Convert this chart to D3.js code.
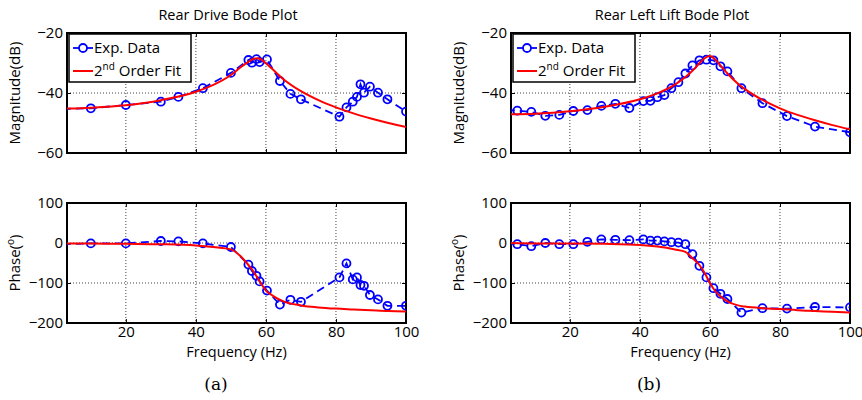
<!DOCTYPE html>
<html>
<head>
<meta charset="utf-8">
<script src="https://cdn.jsdelivr.net/npm/d3@7"></script>
<style>
  body { margin: 0; background: #fff; }
  text { font-family: "Open Sans", sans-serif; }
</style>
</head>
<body>
<script>
// Canvas config
const config = { width: 862, height: 400 };

// Rear Drive (a) - experimental points
const freqA = [2, 10, 20, 30, 35, 42, 50, 55, 56, 57.3, 58.2, 60.3, 64, 67, 70, 81, 83, 84.8, 86, 87, 88, 89.7, 92, 94.7, 100];
const magA = [-45.3, -45.1, -44.0, -42.9, -41.3, -38.4, -33.3, -29.0, -29.9, -28.7, -29.7, -28.8, -36.0, -40.3, -42.1, -47.9, -44.8, -42.9, -41.3, -37.1, -39.9, -37.9, -39.9, -42.1, -46.2];
const phaseA = [-3, -1, -1, 5, 4, -1, -10, -54, -70, -82, -96, -119, -154, -142, -147, -86, -51, -91, -86, -105, -107, -130, -141, -157, -157];

// Rear Drive (a) - 2nd order fit
const fitFreqA = [3.2, 10, 20, 30, 40, 45, 50, 53, 55, 56.5, 57.5, 58.5, 60, 62, 65, 70, 75, 80, 85, 90, 95, 100];
const fitMagA = [-45.2, -44.9, -44.1, -42.4, -39.6, -37.3, -34.0, -31.2, -29.6, -28.6, -28.4, -28.7, -30.1, -32.2, -35.4, -39.4, -42.4, -44.8, -46.8, -48.5, -50.0, -51.3];
const fitPhaseA = [-1, -1, -2, -3, -6, -10, -16, -35, -55, -72, -86, -100, -119, -132, -146, -156, -161, -164, -166, -168, -170, -171];

// Rear Left Lift (b) - experimental points
const freqB = [2, 5, 9, 13, 17, 21, 25, 29, 33, 37, 41, 43, 45, 47, 49, 51, 53, 55, 57, 59, 61, 63, 65, 69, 75, 82, 90, 100];
const magB = [-45.6, -45.9, -46.3, -47.6, -47.3, -46.0, -45.7, -44.3, -43.6, -45.0, -42.7, -42.6, -41.4, -40.7, -38.4, -36.4, -33.5, -30.8, -29.1, -28.9, -29.1, -31.1, -32.8, -38.4, -43.4, -47.7, -51.2, -53.1];
const phaseB = [0, -3, -8, 0, -3, -3, 3, 9, 8, 7, 9, 6, 6, 4, 2, 1, -3, -28, -57, -86, -113, -127, -140, -174, -163, -164, -160, -161];

// Rear Left Lift (b) - 2nd order fit
const fitFreqB = [3.2, 10, 20, 30, 40, 45, 50, 53, 55, 57, 58.5, 60, 61.5, 63, 65, 68, 70, 75, 80, 85, 90, 95, 100];
const fitMagB = [-47.1, -46.9, -46.1, -44.6, -42.1, -40.1, -37.2, -34.7, -32.6, -30.1, -28.4, -27.7, -28.8, -30.8, -33.5, -36.9, -38.7, -42.3, -45.1, -47.3, -49.1, -50.7, -52.1];
const fitPhaseB = [0, -1, -1, -2, -5, -9, -16, -22, -38, -55, -75, -100, -120, -133, -146, -156, -159, -163, -165, -168, -170, -172, -174];

// Axis ticks
const freqTicks = [20, 40, 60, 80, 100];
const magTicks = [-60, -40, -20];
const phaseTicks = [-200, -100, 0, 100];

const fontSize = 15;

const svg = d3.select("body")
  .append("svg")
  .attr("width", config.width)
  .attr("height", config.height);

const zip = (xs, ys) => xs.map((x, i) => [x, ys[i]]);

const drawAxes = (g, x, y, yTicks, showX) => {
  const [x0, x1] = x.range();
  const [y1, y0] = y.range();

  // dotted grid
  g.append("g")
    .selectAll("line")
    .data(freqTicks.filter(d => d < 100))
    .join("line")
    .attr("x1", d => x(d)).attr("x2", d => x(d))
    .attr("y1", y0).attr("y2", y1)
    .attr("stroke", "#444").attr("stroke-width", 1)
    .attr("stroke-dasharray", "1,2");
  g.append("g")
    .selectAll("line")
    .data(yTicks.slice(1, -1))
    .join("line")
    .attr("x1", x0).attr("x2", x1)
    .attr("y1", d => y(d)).attr("y2", d => y(d))
    .attr("stroke", "#444").attr("stroke-width", 1)
    .attr("stroke-dasharray", "1,2");

  g.append("g")
    .attr("transform", `translate(${x0},0)`)
    .call(d3.axisLeft(y).tickValues(yTicks).tickSizeInner(-4).tickSizeOuter(0).tickPadding(4));
  g.append("g")
    .attr("transform", `translate(${x1},0)`)
    .call(d3.axisRight(y).tickValues(yTicks).tickSizeInner(-4).tickSizeOuter(0).tickFormat(""));
  g.append("g")
    .attr("transform", `translate(0,${y0})`)
    .call(d3.axisTop(x).tickValues(freqTicks).tickSizeInner(-4).tickSizeOuter(0).tickFormat(""));
  g.append("g")
    .attr("transform", `translate(0,${y1})`)
    .call(d3.axisBottom(x).tickValues(freqTicks).tickSizeInner(-4).tickSizeOuter(0).tickPadding(3)
      .tickFormat(showX ? d3.format("d") : ""));

  g.selectAll(".domain").remove();
  g.selectAll(".tick line").attr("stroke", "#000").attr("stroke-width", 1);
  g.selectAll(".tick text")
    .attr("font-size", fontSize)
    .attr("font-family", "Open Sans")
    .attr("fill", "#000");

  g.append("rect")
    .attr("x", x0).attr("y", y0)
    .attr("width", x1 - x0).attr("height", y1 - y0)
    .attr("fill", "none").attr("stroke", "#000").attr("stroke-width", 2);
};

const drawSeries = (g, x, y, clipId, freq, vals, fitFreq, fitVals) => {
  const plot = g.append("g").attr("clip-path", `url(#${clipId})`);
  const line = d3.line().x(d => x(d[0])).y(d => y(d[1]));
  const pts = zip(freq, vals);

  plot.append("path")
    .datum(pts)
    .attr("d", line)
    .attr("fill", "none")
    .attr("stroke", "#0000ff")
    .attr("stroke-width", 1.8)
    .attr("stroke-dasharray", "8,5");

  plot.append("g")
    .selectAll("circle")
    .data(pts)
    .join("circle")
    .attr("cx", d => x(d[0]))
    .attr("cy", d => y(d[1]))
    .attr("r", 4)
    .attr("fill", "none")
    .attr("stroke", "#0000ff")
    .attr("stroke-width", 1.8);

  plot.append("path")
    .datum(zip(fitFreq, fitVals))
    .attr("d", line.curve(d3.curveMonotoneX))
    .attr("fill", "none")
    .attr("stroke", "#ff0000")
    .attr("stroke-width", 2);
};

const drawPanel = p => {
  const g = svg.append("g");
  const x = d3.scaleLinear().domain([3.2, 100]).range([p.x0, p.x1]);
  const yMag = d3.scaleLinear().domain([-60, -20]).range([153, 33]);
  const yPh = d3.scaleLinear().domain([-200, 100]).range([323, 203]);

  ["mag", "ph"].forEach((k, i) => {
    svg.append("clipPath")
      .attr("id", `clip-${p.id}-${k}`)
      .append("rect")
      .attr("x", p.x0).attr("y", i ? 203 : 33)
      .attr("width", p.x1 - p.x0).attr("height", 120);
  });

  // title
  g.append("text")
    .attr("x", p.titleX).attr("y", 20)
    .attr("text-anchor", "middle")
    .attr("font-size", 14.5)
    .text(p.title);

  drawAxes(g, x, yMag, magTicks, false);
  drawSeries(g, x, yMag, `clip-${p.id}-mag`, p.freq, p.mag, p.fitFreq, p.fitMag);
  drawAxes(g, x, yPh, phaseTicks, true);
  drawSeries(g, x, yPh, `clip-${p.id}-ph`, p.freq, p.phase, p.fitFreq, p.fitPhase);

  // axis labels
  g.append("text")
    .attr("transform", `translate(${p.x0 - 47},93) rotate(-90)`)
    .attr("text-anchor", "middle")
    .attr("font-size", fontSize)
    .text("Magnitude(dB)");

  const ph = g.append("text")
    .attr("transform", `translate(${p.x0 - 47},263) rotate(-90)`)
    .attr("text-anchor", "middle")
    .attr("font-size", fontSize);
  ph.append("tspan").text("Phase(");
  ph.append("tspan").attr("font-size", 10).attr("dy", -6).text("o");
  ph.append("tspan").attr("dy", 6).text(")");

  g.append("text")
    .attr("x", (p.x0 + p.x1) / 2).attr("y", 357)
    .attr("text-anchor", "middle")
    .attr("font-size", 14.5)
    .text("Frequency (Hz)");

  g.append("text")
    .attr("x", p.letterX).attr("y", 390)
    .attr("text-anchor", "middle")
    .attr("font-size", 17)
    .style("font-family", "'DejaVu Serif', serif")
    .text(p.letter);

  // legend
  const lg = g.append("g").attr("transform", `translate(${p.x0 + 2},34)`);
  lg.append("rect")
    .attr("width", 122).attr("height", 48)
    .attr("fill", "#fff").attr("stroke", "#000").attr("stroke-width", 1.5);
  lg.append("line")
    .attr("x1", 4).attr("x2", 24).attr("y1", 14).attr("y2", 14)
    .attr("stroke", "#0000ff").attr("stroke-width", 1.8);
  lg.append("circle")
    .attr("cx", 14).attr("cy", 14).attr("r", 4)
    .attr("fill", "#fff").attr("stroke", "#0000ff").attr("stroke-width", 1.8);
  lg.append("text")
    .attr("x", 25).attr("y", 19)
    .attr("font-size", fontSize)
    .text("Exp. Data");
  lg.append("line")
    .attr("x1", 4).attr("x2", 24).attr("y1", 37).attr("y2", 37)
    .attr("stroke", "#ff0000").attr("stroke-width", 2);
  const fitLabel = lg.append("text")
    .attr("x", 25).attr("y", 42)
    .attr("font-size", fontSize);
  fitLabel.append("tspan").text("2");
  fitLabel.append("tspan").attr("font-size", 10).attr("dy", -6).text("nd");
  fitLabel.append("tspan").attr("dy", 6).text(" Order Fit");
};

drawPanel({
  id: "a", x0: 67, x1: 406, titleX: 228, letterX: 216,
  title: "Rear Drive Bode Plot", letter: "(a)",
  freq: freqA, mag: magA, phase: phaseA,
  fitFreq: fitFreqA, fitMag: fitMagA, fitPhase: fitPhaseA
});

drawPanel({
  id: "b", x0: 511, x1: 850, titleX: 672, letterX: 649,
  title: "Rear Left Lift Bode Plot", letter: "(b)",
  freq: freqB, mag: magB, phase: phaseB,
  fitFreq: fitFreqB, fitMag: fitMagB, fitPhase: fitPhaseB
});
</script>
</body>
</html>
